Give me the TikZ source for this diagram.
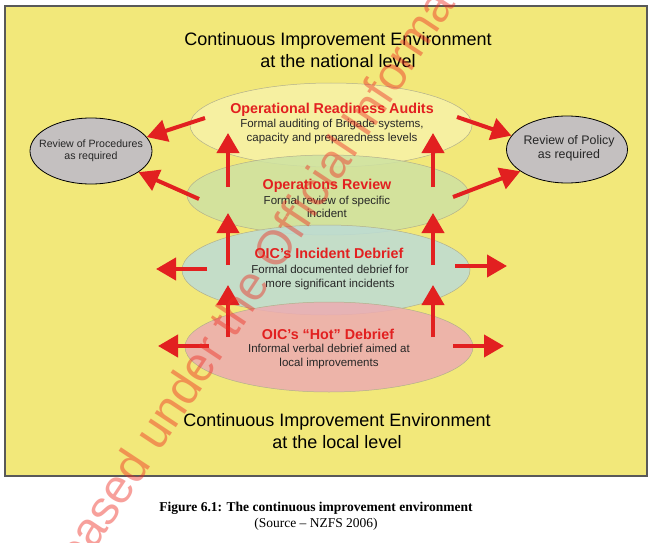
\documentclass[tikz,border=0pt]{standalone}
\usepackage{fontspec}
\setmainfont{Liberation Sans}
\newfontfamily\capfont{Liberation Serif}
\usetikzlibrary{arrows.meta, shapes.geometric}

\definecolor{envyellow}{RGB}{242,232,122}
\definecolor{auditfill}{RGB}{247,242,168}
\definecolor{reviewfill}{RGB}{206,226,162}
\definecolor{debrieffill}{RGB}{188,220,214}
\definecolor{hotfill}{RGB}{237,172,178}
\definecolor{sidefill}{RGB}{196,192,192}
\definecolor{edgegray}{RGB}{178,176,140}
\definecolor{arrowred}{RGB}{226,32,32}
\definecolor{stampred}{RGB}{238,45,35}

\begin{document}
\begin{tikzpicture}[x=1pt, y=-1pt,
        level/.style={ellipse, draw=edgegray, line width=0.5pt, fill opacity=0.85, inner sep=0pt},
        side/.style={ellipse, draw=black, line width=0.8pt, fill=sidefill, inner sep=0pt},
        head/.style={text=arrowred, font=\fontsize{14.3}{17}\selectfont\bfseries},
        body/.style={align=center, text=black!85, font=\fontsize{11.5}{13.5}\selectfont},
        envtitle/.style={align=center, font=\fontsize{18}{21.2}\selectfont},
        arr/.style={-{Triangle[length=20pt, width=22pt]}, line width=4pt, arrowred}
    ]
    \path[use as bounding box, clip] (0,0) rectangle (659,543);
    \fill[white] (0,0) rectangle (659,543);
    % Environment box
    \node[draw=black!65, line width=1.5pt, fill=envyellow, minimum width=642pt, minimum height=470pt, inner sep=0pt] (env) at (326,241) {};
    \node[envtitle] (national) at (338,50) {Continuous Improvement Environment\\at the national level};
    \node[envtitle] (local) at (337,431) {Continuous Improvement Environment\\at the local level};

    % Levels, from the top down
    \node[level, fill=auditfill, minimum width=282pt, minimum height=84pt] (audit) at (331,125) {};
    \node[level, fill=reviewfill, minimum width=282pt, minimum height=80pt] (review) at (328,195) {};
    \node[level, fill=debrieffill, minimum width=288pt, minimum height=90pt] (debrief) at (326,270) {};
    \node[level, fill=hotfill, minimum width=288pt, minimum height=90pt] (hot) at (329,347) {};

    \node[head] (auditHead) at (332,110) {Operational Readiness Audits};
    \node[body] (auditBody) at (332,131.5) {Formal auditing of Brigade systems,\\capacity and preparedness levels};
    \node[head] (reviewHead) at (327,186) {Operations Review};
    \node[body] (reviewBody) at (327,207) {Formal review of specific\\incident};
    \node[head] (debriefHead) at (329,253) {OIC’s Incident Debrief};
    \node[body] (debriefBody) at (330,277.5) {Formal documented debrief for\\more significant incidents};
    \node[head] (hotHead) at (328,334) {OIC’s “Hot” Debrief};
    \node[body] (hotBody) at (329,356.5) {Informal verbal debrief aimed at\\local improvements};

    % Reviews at either side
    \node[side, minimum width=122pt, minimum height=66pt] (proc) at (91,151) {};
    \node[side, minimum width=121pt, minimum height=67pt] (policy) at (567,149.5) {};
    \node[align=center, text=black!85, font=\fontsize{10.6}{12}\selectfont] (procText) at (91,151) {Review of Procedures\\as required};
    \node[align=center, text=black!85, font=\fontsize{12.4}{13.5}\selectfont] (policyText) at (569,148.5) {Review of Policy\\as required};

    % Arrows up through the levels
    \foreach \s/\x in {l/228, r/433}
        \foreach \n/\y/\t in {1/187/133, 2/265/213, 3/337/285} {
            \coordinate (\s\n) at (\x,\y);
            \coordinate (\s\n-tip) at (\x,\t);
            \draw[arr] (\s\n) -- (\s\n-tip);
        }
    % Arrows out to the sides
    \coordinate (auditL) at (205,118);
    \coordinate (reviewL) at (199,199);
    \coordinate (auditR) at (457,117);
    \coordinate (reviewR) at (453,197);
    \draw[arr] (auditL) -- (proc.14);
    \draw[arr] (reviewL) -- (proc.-24);
    \draw[arr] (auditR) -- (policy.166);
    \draw[arr] (reviewR) -- (policy.-155);
    \foreach \nm/\a/\b/\y in {debriefL/207/156/269, hotL/209/158/346, debriefR/455/507/266, hotR/453/504/346} {
        \coordinate (\nm) at (\a,\y);
        \coordinate (\nm-tip) at (\b,\y);
        \draw[arr] (\nm) -- (\nm-tip);
    }

    % Caption
    \node[font=\capfont\fontsize{13.5}{16}\selectfont\bfseries] (caption) at (316,508) {Figure 6.1: The continuous improvement environment};
    \node[font=\capfont\fontsize{13.5}{16}\selectfont] (source) at (316,524) {(Source – NZFS 2006)};

    % Stamp across the page
    \node[rotate=56.5, text=stampred, text opacity=0.45, font=\fontsize{48}{48}\selectfont] (stamp) at (254,279) {eased under the Official Informa};
\end{tikzpicture}
\end{document}
